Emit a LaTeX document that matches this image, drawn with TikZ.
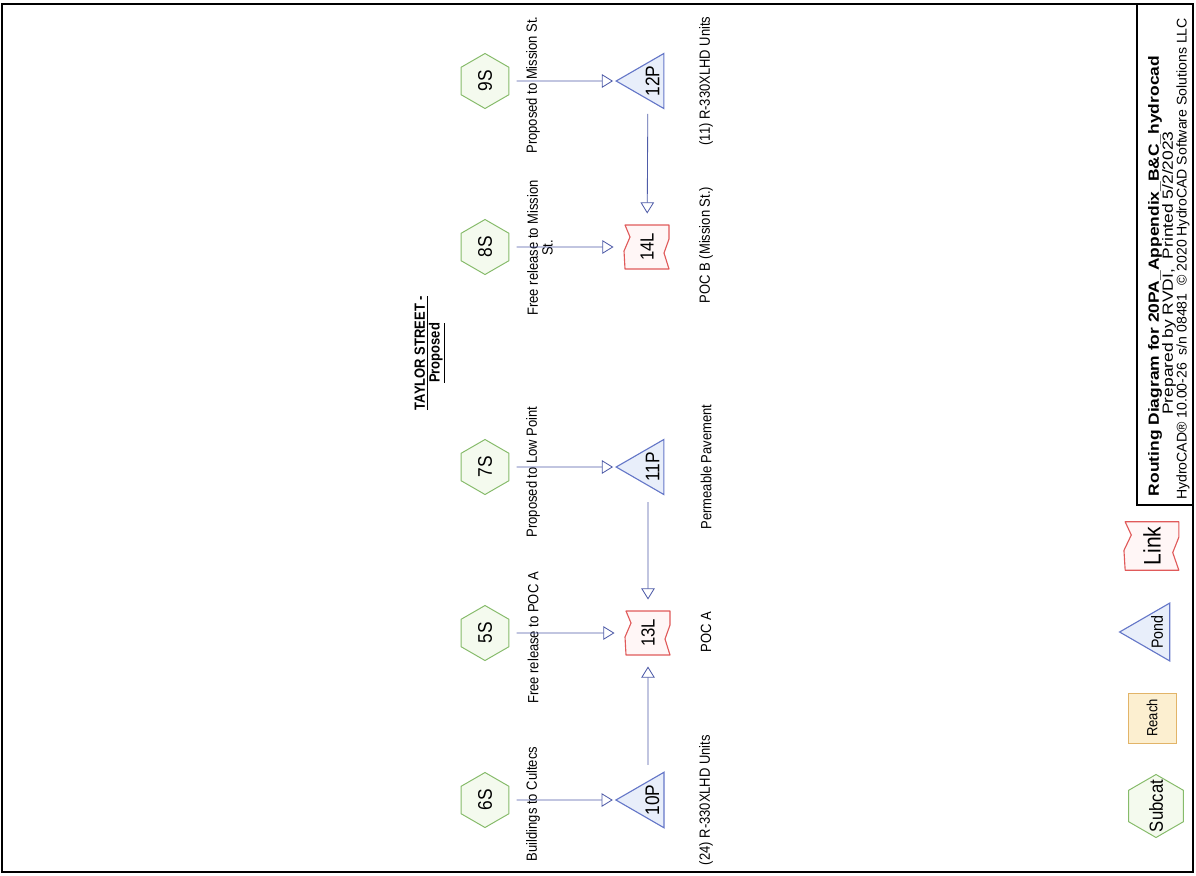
\documentclass[tikz,border=0pt]{standalone}
\usepackage{fontspec}
\setmainfont{Liberation Sans}
\newfontfamily\narrowface{Liberation Sans}[FakeStretch=0.88]
\newfontfamily\wideface{Liberation Sans}[FakeStretch=1.18]
\usepackage{tikz}
\usetikzlibrary{shapes.geometric, arrows.meta, backgrounds}

\definecolor{subcatfill}{HTML}{F4FAEE}
\definecolor{subcatline}{HTML}{86BB6A}
\definecolor{pondfill}{HTML}{E8EEFA}
\definecolor{pondline}{HTML}{6577C8}
\definecolor{linkfill}{HTML}{FFF6F6}
\definecolor{linkline}{HTML}{E05A5A}
\definecolor{reachfill}{HTML}{FCEFD0}
\definecolor{reachline}{HTML}{E2B468}
\definecolor{flowc}{HTML}{4F5CA8}

% wavy outline round a link node
\newcommand{\linkbox}[2][]{%
  \begin{scope}[shift={(#2.center)}, #1]
    \filldraw[fill=linkfill, draw=linkline, line width=0.8pt, line join=round]
      (-22,-22) -- (-17,-10) -- (-23,4) -- (-22,22) -- (22,22)
      -- (17,6) -- (22,-8) -- (22,-22) -- cycle;
  \end{scope}}
% pond text, pushed towards the base of the triangle
\newcommand{\pondtxt}[1]{\makebox[0pt]{#1}\rule{0pt}{16pt}}

\begin{document}
\begin{tikzpicture}[
  x=0.025cm, y=-0.025cm,
  subcat/.style = {regular polygon, regular polygon sides=6, rotate=90,
                   minimum size=1.375cm, inner sep=0pt,
                   draw=subcatline, fill=subcatfill, line width=0.7pt,
                   font=\narrowface\fontsize{14}{16}\selectfont},
  pond/.style   = {regular polygon, regular polygon sides=3, rotate=90,
                   minimum size=1.5cm, inner sep=0pt,
                   draw=pondline, fill=pondfill, line width=0.8pt,
                   font=\narrowface\fontsize{14}{16}\selectfont},
  link/.style   = {rectangle, rotate=90, minimum width=1.1cm,
                   minimum height=1.1cm, inner sep=0pt,
                   font=\narrowface\fontsize{13.5}{16}\selectfont},
  reach/.style  = {rectangle, rotate=90, minimum width=1.25cm,
                   minimum height=1.2cm, inner sep=0pt,
                   draw=reachline, fill=reachfill, line width=0.7pt},
  lbl/.style    = {rotate=90, align=center, inner sep=0pt,
                   font=\narrowface\fontsize{10.5}{10.6}\selectfont},
  arr/.style    = {-{Triangle[open, length=0.28cm, width=0.34cm]},
                   draw=flowc, line width=0.6pt,
                   shorten <=0.18cm, shorten >=0.05cm}
]
\useasboundingbox (0,0) rectangle (1196,875);

% ===================== PAGE FRAME =====================
\draw[line width=1pt] (2,4) rectangle (1193,872);
\draw[line width=1pt] (1137,4) rectangle (1193,505);

% ===================== HEADING =====================
\node[lbl, font=\narrowface\bfseries\fontsize{10.5}{10.6}\selectfont]
  (head) at (430,353) {\underline{TAYLOR STREET -}\\\underline{Proposed}};

% ===================== SUBCATCHMENTS =====================
\node[subcat] (s6) at (485,800) {6S};
\node[subcat] (s5) at (485,633) {5S};
\node[subcat] (s7) at (485,467) {7S};
\node[subcat] (s8) at (485,247) {8S};
\node[subcat] (s9) at (485,81)  {9S};

\node[lbl] (t6) at (533,804) {Buildings to Cultecs};
\node[lbl] (t5) at (533,638) {Free release to POC A};
\node[lbl] (t7) at (533,472) {Proposed to Low Point};
\node[lbl] (t8) at (540,248) {Free release to Mission\\St.};
\node[lbl] (t9) at (533,85)  {Proposed to Mission St.};

% ===================== PONDS & LINKS =====================
\node[pond] (p10) at (648,800) {\pondtxt{10P}};
\node[pond] (p11) at (648,467) {\pondtxt{11P}};
\node[pond] (p12) at (648,81)  {\pondtxt{12P}};

\node[link] (l13) at (648,633) {13L};
\node[link] (l14) at (647,247) {14L};

\node[lbl] (d10) at (706,800) {(24) R-330XLHD Units};
\node[lbl] (d13) at (706,632) {POC A};
\node[lbl] (d11) at (706,467) {Permeable Pavement};
\node[lbl] (d14) at (706,245) {POC B (Mission St.)};
\node[lbl] (d12) at (706,81)  {(11) R-330XLHD Units};

% arrows: subcats -> ponds / links
\draw[arr] (s6) -- (p10);
\draw[arr, shorten >=0.28cm] (s5) -- (l13);
\draw[arr] (s7) -- (p11);
\draw[arr, shorten >=0.28cm] (s8) -- (l14);
\draw[arr] (s9) -- (p12);

% arrows: ponds -> links
\draw[arr, shorten <=0.4cm, shorten >=0.28cm] (p10) -- (l13);
\draw[arr, shorten <=0.4cm, shorten >=0.28cm] (p11) -- (l13);
\draw[arr, shorten <=0.35cm, shorten >=0.28cm] (p12) -- (l14);

% ===================== LEGEND =====================
\node[subcat, minimum size=1.575cm,
      font=\narrowface\fontsize{13.5}{15}\selectfont]
  (lsub) at (1156,806) {\makebox[0pt]{Subcat}};
\node[reach, font=\narrowface\fontsize{10.5}{12}\selectfont]
  (lreach) at (1152,718) {Reach};
\node[pond, minimum size=1.67cm,
      font=\narrowface\fontsize{11.5}{13}\selectfont]
  (lpond) at (1153,632) {\makebox[0pt]{Pond}\rule{0pt}{14pt}};
\node[link, font=\narrowface\fontsize{17}{19}\selectfont]
  (llink) at (1152,546) {Link};

% ===================== TITLE BLOCK =====================
\node[lbl, font=\wideface\bfseries\fontsize{10.5}{12}\selectfont]
  (ttl1) at (1155,276) {Routing Diagram for 20PA\_Appendix\_B\&C\_hydrocad};
\node[lbl, font=\wideface\fontsize{10.5}{12}\selectfont]
  (ttl2) at (1169,273) {Prepared by RVDI,\ \ Printed 5/2/2023};
\node[lbl, font=\fontsize{10}{12}\selectfont]
  (ttl3) at (1183,259) {HydroCAD® 10.00-26\ \ s/n 08481\ \ © 2020 HydroCAD Software Solutions LLC};

% link outlines behind their text
\begin{scope}[on background layer]
  \linkbox{l13}
  \linkbox{l14}
  \linkbox[xscale=1.22, yscale=1.1]{llink}
\end{scope}

\end{tikzpicture}
\end{document}
